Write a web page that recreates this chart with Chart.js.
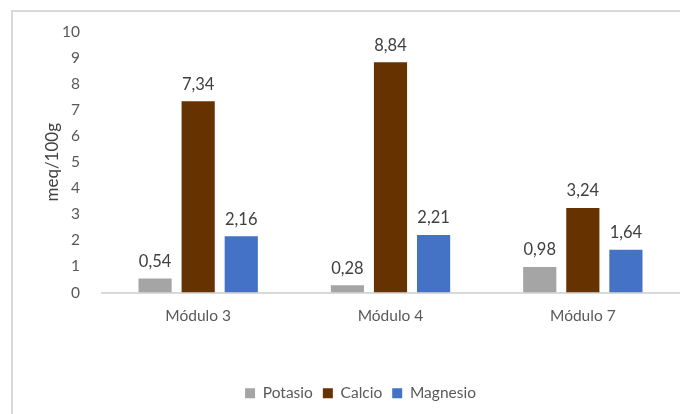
<!DOCTYPE html>
<html>
<head>
<meta charset="utf-8">
<script src="https://cdn.jsdelivr.net/npm/chart.js@4/dist/chart.umd.min.js"></script>
<style>
  html, body { margin: 0; padding: 0; background: #fff; }
  #frame {
    position: absolute; left: 11px; top: 10px; width: 680px; height: 420px;
    border-top: 2px solid #d9d9d9; border-left: 2px solid #d9d9d9;
  }
  #wrap { position: absolute; left: 0; top: 0; width: 680px; height: 414px; }
</style>
</head>
<body>
<div id="frame"></div>
<div id="wrap"><canvas id="myChart"></canvas></div>
<script>
// categories and series
var modulos = ['Módulo 3', 'Módulo 4', 'Módulo 7'];
var potasio = [0.54, 0.28, 0.98];
var calcio = [7.34, 8.84, 3.24];
var magnesio = [2.16, 2.21, 1.64];
var yTitle = 'meq/100g';

var FONT = 'Lato, "Liberation Sans", sans-serif';

// draws value labels above each bar, with comma decimals
var barLabels = {
    id: 'barLabels',
    afterDatasetsDraw: function (chart) {
        var ctx = chart.ctx;
        ctx.save();
        ctx.font = '16.5px ' + FONT;
        ctx.fillStyle = '#404040';
        ctx.textAlign = 'center';
        ctx.textBaseline = 'middle';
        chart.data.datasets.forEach(function (ds, i) {
            chart.getDatasetMeta(i).data.forEach(function (bar, j) {
                var txt = ds.data[j].toFixed(2).replace('.', ',');
                ctx.fillText(txt, bar.x, bar.y - 17);
            });
        });
        ctx.restore();
    }
};

var ctx = document.getElementById('myChart').getContext('2d');
var myChart = new Chart(ctx, {
    type: 'bar',
    data: {
        labels: modulos,
        datasets: [
            { label: 'Potasio', data: potasio, backgroundColor: '#a5a5a5' },
            { label: 'Calcio', data: calcio, backgroundColor: '#663300' },
            { label: 'Magnesio', data: magnesio, backgroundColor: '#4472c4' }
        ]
    },
    options: {
        responsive: true,
        maintainAspectRatio: false,
        animation: false,
        categoryPercentage: 0.672,
        barPercentage: 0.77,
        layout: { padding: { top: 32, left: 42, right: 1, bottom: 3 } },
        plugins: {
            tooltip: { enabled: false },
            legend: {
                position: 'bottom',
                labels: {
                    color: '#595959',
                    font: { family: FONT, size: 15.5 },
                    boxWidth: 10, boxHeight: 10,
                    padding: 10
                }
            }
        },
        scales: {
            x: {
                grid: { display: false },
                border: { display: true, color: '#d9d9d9', width: 2 },
                ticks: { color: '#595959', font: { family: FONT, size: 15.5 }, padding: 6 },
                afterFit: function (s) { s.height = 83; }
            },
            y: {
                min: 0, max: 10,
                grid: { display: false },
                border: { display: false },
                ticks: { stepSize: 1, color: '#595959', font: { family: FONT, size: 15.5 }, padding: 14 },
                title: { display: true, text: yTitle, color: '#404040', font: { family: FONT, size: 17 }, padding: 0 },
                afterFit: function (s) { s.width = 60; }
            }
        }
    },
    plugins: [barLabels]
});
</script>
</body>
</html>
